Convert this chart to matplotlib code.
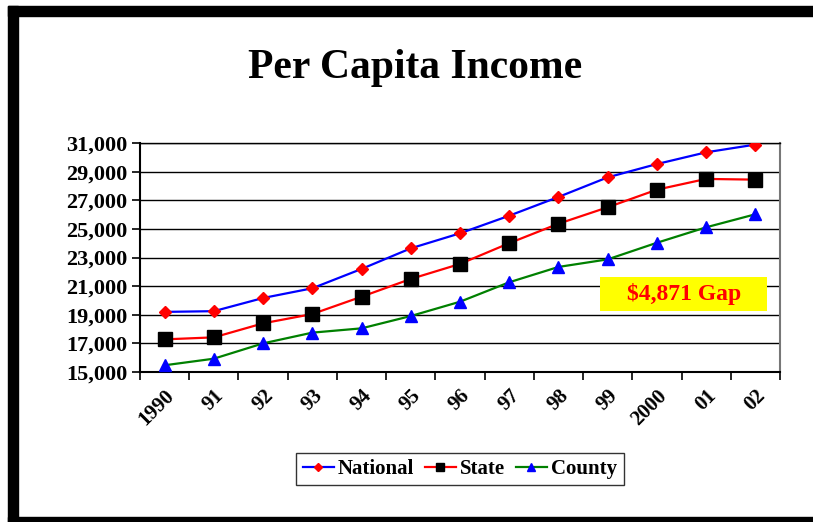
import numpy as np
import matplotlib
matplotlib.use("Agg")
import matplotlib.pyplot as plt
from matplotlib.patches import Rectangle
from matplotlib.ticker import FuncFormatter

plt.rcParams['font.family'] = ['Liberation Serif', 'DejaVu Serif']

# данные
years = ["1990", "91", "92", "93", "94", "95", "96", "97", "98", "99", "2000", "01", "02"]
national = [19200, 19250, 20170, 20850, 22200, 23640, 24690, 25920, 27230, 28600, 29530, 30350, 30890]
state = [17280, 17420, 18400, 19050, 20260, 21500, 22550, 24000, 25360, 26510, 27740, 28490, 28440]
county = [15470, 15930, 17000, 17750, 18050, 18910, 19910, 21270, 22340, 22870, 24030, 25110, 26020]
gap_label = "$4,871 Gap"

fig = plt.figure(figsize=(8.13, 5.22), dpi=100)
W, H = 813, 522

def fx(px):
    return px / W

def fy(py):
    return 1 - py / H

# чёрная рамка
fig.patches.append(Rectangle((fx(8), fy(16)), 1, 10 / H, transform=fig.transFigure,
                             color="black", zorder=0))
fig.patches.append(Rectangle((fx(8), 0), 10 / W, fy(6), transform=fig.transFigure,
                             color="black", zorder=0))
fig.patches.append(Rectangle((fx(8), 0), 1, 5 / H, transform=fig.transFigure,
                             color="black", zorder=0))

ax = fig.add_axes([fx(140), fy(372), fx(780) - fx(140), fy(143) - fy(372)])
x = np.arange(len(years))

ax.plot(x, national, "-", color="blue", lw=1.6, marker="D", ms=6.5,
        mfc="red", mec="red", label="National", zorder=3)
ax.plot(x, state, "-", color="red", lw=1.6, marker="s", ms=9.5,
        mfc="black", mec="black", label="State", zorder=3)
ax.plot(x, county, "-", color="green", lw=1.6, marker="^", ms=9,
        mfc="blue", mec="blue", label="County", zorder=3)

ax.set_xlim(-0.5, len(years) - 0.5)
ax.set_ylim(15000, 31000)
ax.set_yticks(np.arange(15000, 31001, 2000))
ax.yaxis.set_major_formatter(FuncFormatter(lambda v, p: f"{int(v):,}"))
ax.grid(axis="y", color="black", lw=1)
ax.set_axisbelow(True)

ax.set_xticks(x)
ax.set_xticklabels(years, rotation=45, ha="right", va="top", rotation_mode="anchor",
                   fontsize=15, fontweight="bold")
ax.set_xticks(np.arange(-0.5, len(years)), minor=True)
ax.tick_params(axis="x", which="major", length=0, pad=10)
ax.tick_params(axis="x", which="minor", length=6, width=1.2, direction="out")
ax.tick_params(axis="y", length=6, width=1.2, direction="out", pad=3)
for lab in ax.get_yticklabels():
    lab.set_fontsize(16)
    lab.set_fontweight("bold")

ax.spines["left"].set_linewidth(1.5)
ax.spines["bottom"].set_linewidth(1.5)
ax.spines["right"].set_color("#777777")
ax.spines["right"].set_linewidth(1.5)
ax.spines["top"].set_linewidth(1)

# жёлтая плашка с разрывом
ax.add_patch(Rectangle((0.719, 0.267), 0.261, 0.148, transform=ax.transAxes,
                       facecolor="yellow", edgecolor="none", zorder=4))
ax.text(0.8495, 0.341, gap_label, transform=ax.transAxes, ha="center", va="center",
        color="red", fontsize=17, fontweight="bold", zorder=5)

fig.text(fx(415), fy(68), "Per Capita Income", ha="center", va="center",
         fontsize=30, fontweight="bold")

leg = fig.legend(loc="center", bbox_to_anchor=(fx(460), fy(469)), ncol=3,
                 frameon=True, fancybox=False, edgecolor="black",
                 prop={"weight": "bold", "size": 15}, handlelength=1.5,
                 handletextpad=0.2, columnspacing=0.5, borderpad=0.3,
                 markerscale=0.6)
leg.get_frame().set_linewidth(1)

fig.savefig("out.png", dpi=100)
